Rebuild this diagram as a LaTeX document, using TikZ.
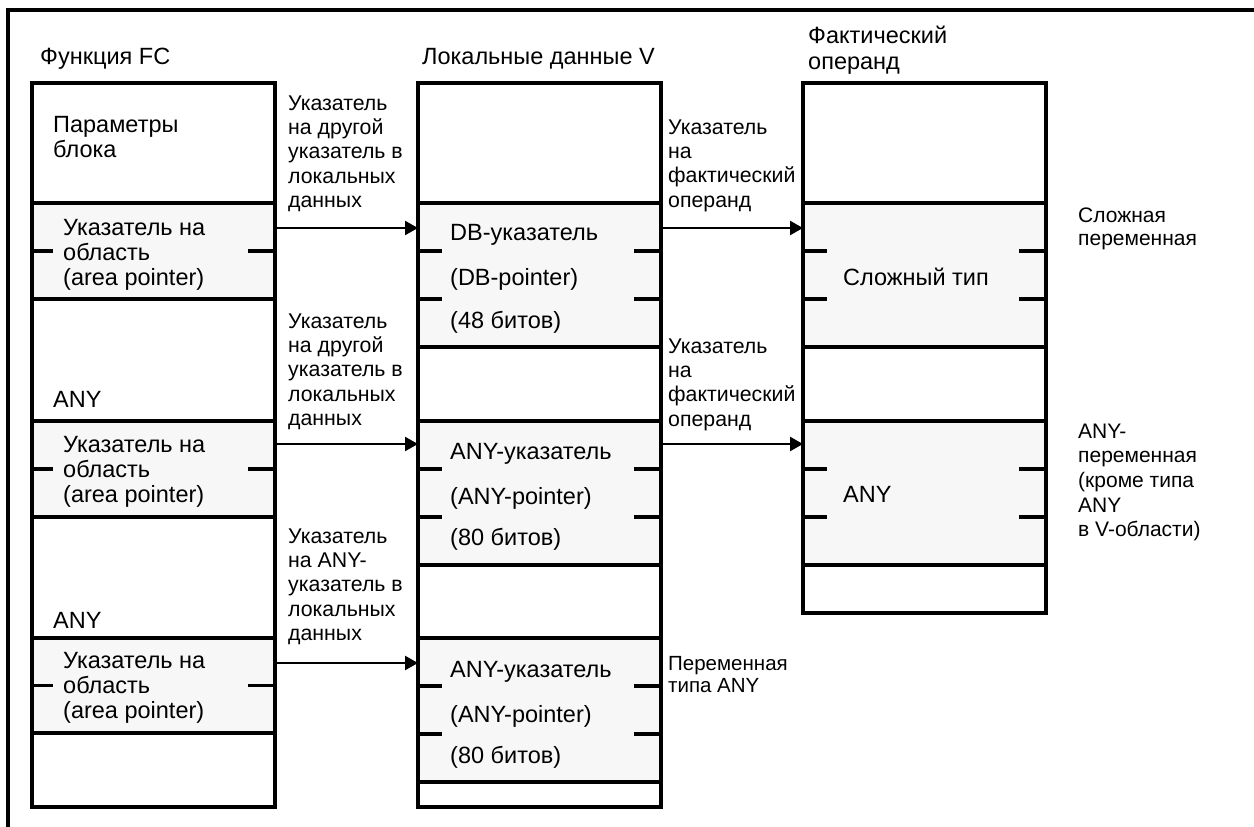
\documentclass[tikz,border=0pt]{standalone}
\usepackage{fontspec}
\setmainfont{Liberation Sans}
\usetikzlibrary{arrows.meta,calc}
\definecolor{cellfill}{RGB}{247,247,247}
% multi-line text whose base anchor is the first line's baseline
\newcommand{\stacklines}[1]{\parbox[t]{220pt}{\raggedright #1}}
\begin{document}
\begin{tikzpicture}[x=1pt,y=-1pt,
  box/.style={draw=black, line width=3.4pt, outer sep=0pt, inner sep=0pt,
              anchor=north west, minimum width=243pt, minimum height=#1pt},
  grey/.style={fill=cellfill},
  tick/.style={line width=3.4pt},
  txt/.style={anchor=base west, inner sep=0pt, font=\fontsize{23.5pt}{25pt}\selectfont},
  lbl/.style={anchor=base west, inner sep=0pt, font=\fontsize{21.3pt}{24.4pt}\selectfont},
  note/.style={anchor=base west, inner sep=0pt, font=\fontsize{21pt}{23pt}\selectfont},
  ptr/.style={line width=2.3pt, -{Triangle[length=13pt,width=14pt]}}
]
\useasboundingbox (0,0) rectangle (1254,827);

% outer frame (top and left edges)
\coordinate (frTR) at (1254,10);
\coordinate (frTL) at (8,10);
\coordinate (frBL) at (8,827);
\draw[line width=3.4pt] (frTR) -- (frTL) -- (frBL);

% column 1: function FC
\node[box=120] (fA0) at (32,83) {};
\node[box=96,grey] (fA1) at (32,203) {};
\node[box=122] (fA2) at (32,299) {};
\node[box=96,grey] (fA3) at (32,421) {};
\node[box=121] (fA4) at (32,517) {};
\node[box=95,grey] (fA5) at (32,638) {};
\node[box=74] (fA6) at (32,733) {};

% column 2: local data V
\node[box=120] (vB0) at (418,83) {};
\node[box=144,grey] (vB1) at (418,203) {};
\node[box=74] (vB2) at (418,347) {};
\node[box=144,grey] (vB3) at (418,421) {};
\node[box=73] (vB4) at (418,565) {};
\node[box=144,grey] (vB5) at (418,638) {};
\node[box=25] (vB6) at (418,782) {};

% column 3: actual operand
\node[box=120] (oC0) at (803,83) {};
\node[box=144,grey] (oC1) at (803,203) {};
\node[box=74] (oC2) at (803,347) {};
\node[box=144,grey] (oC3) at (803,421) {};
\node[box=48] (oC4) at (803,565) {};

% tick marks on the grey cells
\foreach \c in {fA1,fA3,fA5} {
  \draw[tick] (\c.west) -- ++(21,0);
  \draw[tick] (\c.east) -- ++(-27,0);
}
\foreach \c in {vB1,vB3,vB5,oC1,oC3} {
  \foreach \f in {0.3333,0.6667} {
    \draw[tick] ($(\c.north west)!\f!(\c.south west)$) -- ++(24,0);
    \draw[tick] ($(\c.north east)!\f!(\c.south east)$) -- ++(-27,0);
  }
}

% pointers
\draw[ptr] ([yshift=-25pt]fA1.north east) -- ([yshift=-25pt]vB1.north west);
\draw[ptr] ([yshift=-23pt]fA3.north east) -- ([yshift=-23pt]vB3.north west);
\draw[ptr] ([yshift=-25pt]fA5.north east) -- ([yshift=-25pt]vB5.north west);
\draw[ptr] ([yshift=-25pt]vB1.north east) -- ([yshift=-25pt]oC1.north west);
\draw[ptr] ([yshift=-23pt]vB3.north east) -- ([yshift=-23pt]oC3.north west);

% column headings
\node[txt] (tFC) at (40,64) {Функция FC};
\node[txt] (tV) at (422,64) {Локальные данные V};
\node[txt, font=\fontsize{23.5pt}{26.5pt}\selectfont] (tOp) at (808,43) {\stacklines{Фактический\\операнд}};

% column 1 texts
\node[txt] (tPar) at (53,132) {\stacklines{Параметры\\блока}};
\node[txt] (tA1) at (63,235) {\stacklines{Указатель на\\область\\(area pointer)}};
\node[txt] (tAny1) at (53,407) {ANY};
\node[txt] (tA2) at (63,452) {\stacklines{Указатель на\\область\\(area pointer)}};
\node[txt] (tAny2) at (53,628) {ANY};
\node[txt] (tA3) at (63,668) {\stacklines{Указатель на\\область\\(area pointer)}};

% column 2 texts
\node[txt] (tDB1) at (450,240) {DB-указатель};
\node[txt] (tDB2) at (450,285) {(DB-pointer)};
\node[txt] (tDB3) at (450,328) {(48 битов)};
\node[txt] (tAP1) at (450,459) {ANY-указатель};
\node[txt] (tAP2) at (450,504) {(ANY-pointer)};
\node[txt] (tAP3) at (450,545) {(80 битов)};
\node[txt] (tAQ1) at (450,677) {ANY-указатель};
\node[txt] (tAQ2) at (450,722) {(ANY-pointer)};
\node[txt] (tAQ3) at (450,763) {(80 битов)};

% column 3 texts
\node[txt] (tCx) at (843,285) {Сложный тип};
\node[txt] (tAny3) at (843,502) {ANY};

% pointer labels
\node[lbl] (lP1) at (288,110) {\stacklines{Указатель\\на другой\\указатель в\\локальных\\данных}};
\node[lbl] (lP2) at (288,328) {\stacklines{Указатель\\на другой\\указатель в\\локальных\\данных}};
\node[lbl] (lP3) at (288,543) {\stacklines{Указатель\\на ANY-\\указатель в\\локальных\\данных}};
\node[lbl] (lQ1) at (668,134) {\stacklines{Указатель\\на\\фактический\\операнд}};
\node[lbl] (lQ2) at (668,353) {\stacklines{Указатель\\на\\фактический\\операнд}};

% side notes
\node[note, font=\fontsize{20.5pt}{22pt}\selectfont] (nAnyVar) at (668,670) {\stacklines{Переменная\\типа ANY}};
\node[note] (nCx) at (1078,222) {\stacklines{Сложная\\переменная}};
\node[note, font=\fontsize{21pt}{24.7pt}\selectfont] (nAny) at (1078,438) {\stacklines{ANY-\\переменная\\(кроме типа\\ANY\\в V-области)}};
\end{tikzpicture}
\end{document}
